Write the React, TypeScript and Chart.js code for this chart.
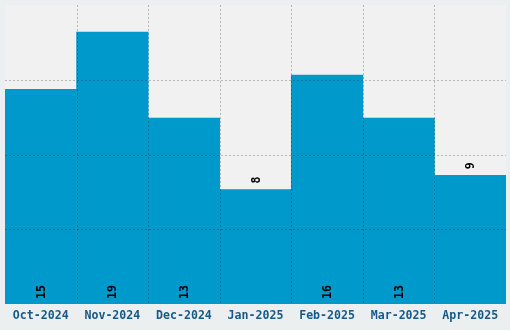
import React, { useEffect, useRef } from "react";
import { Chart, registerables } from "chart.js";

Chart.register(...registerables);

const categories = ["Oct-2024", "Nov-2024", "Dec-2024", "Jan-2025", "Feb-2025", "Mar-2025", "Apr-2025"];
const values = [15, 19, 13, 8, 16, 13, 9];
const yMax = 20.9;

const FONT = "'DejaVu Sans Mono', 'Liberation Mono', monospace";

const bgPlugin = {
  id: "bgPlugin",
  beforeDraw(chart: any) {
    const { ctx, chartArea, width, height } = chart;
    ctx.save();
    ctx.fillStyle = "#eceff0";
    ctx.fillRect(0, 0, width, height);
    ctx.fillStyle = "#f1f1f1";
    ctx.fillRect(chartArea.left, chartArea.top, chartArea.right - chartArea.left, chartArea.bottom - chartArea.top);
    ctx.restore();
  },
};

const gridPlugin = {
  id: "gridPlugin",
  afterDatasetsDraw(chart: any) {
    const { ctx, chartArea, scales } = chart;
    ctx.save();
    ctx.strokeStyle = "rgba(0,0,0,0.24)";
    ctx.lineWidth = 1;
    ctx.setLineDash([2, 2]);
    const xs = scales.x;
    for (let i = 1; i < categories.length; i++) {
      const px = Math.round((xs.getPixelForTick(i - 1) + xs.getPixelForTick(i)) / 2) + 0.5;
      ctx.beginPath();
      ctx.moveTo(px, chartArea.top);
      ctx.lineTo(px, chartArea.bottom);
      ctx.stroke();
    }
    const ys = scales.y;
    ys.ticks.forEach((t: any, i: number) => {
      if (i === 0 || i === ys.ticks.length - 1) return;
      const py = Math.round(ys.getPixelForValue(t.value)) + 0.5;
      ctx.beginPath();
      ctx.moveTo(chartArea.left, py);
      ctx.lineTo(chartArea.right, py);
      ctx.stroke();
    });
    ctx.restore();
  },
};

const labelPlugin = {
  id: "labelPlugin",
  afterDraw(chart: any) {
    const { ctx } = chart;
    const meta = chart.getDatasetMeta(0);
    ctx.save();
    ctx.font = `bold 11.6px ${FONT}`;
    ctx.fillStyle = "#000000";
    ctx.textBaseline = "middle";
    ctx.textAlign = "left";
    meta.data.forEach((bar: any, i: number) => {
      const v = values[i];
      const x = bar.x;
      const y = v < 10 ? bar.y - 6 : bar.base - 5;
      ctx.save();
      ctx.translate(x, y);
      ctx.rotate(-Math.PI / 2);
      ctx.fillText(String(v), 0, 1);
      ctx.restore();
    });
    ctx.restore();
  },
};

export default function App() {
  const ref = useRef<HTMLCanvasElement | null>(null);
  useEffect(() => {
    document.body.style.margin = "0";
    document.body.style.background = "#eceff0";
    const chart = new Chart(ref.current as HTMLCanvasElement, {
      type: "bar",
      data: {
        labels: categories,
        datasets: [
          {
            data: values,
            backgroundColor: "#0099cc",
            borderWidth: 0,
            barPercentage: 1,
            categoryPercentage: 1,
          },
        ],
      },
      options: {
        animation: false,
        responsive: false,
        layout: { padding: { left: 5, right: 4, top: 5, bottom: 2 } },
        plugins: { legend: { display: false }, tooltip: { enabled: false } },
        scales: {
          x: {
            grid: { display: false, drawTicks: false },
            border: { display: false },
            ticks: {
              padding: 5,
              color: "#155a8a",
              font: { family: FONT, size: 11.6, weight: "bold" },
              maxRotation: 0,
            },
          },
          y: {
            min: 0,
            max: yMax,
            grid: { display: false, drawTicks: false },
            border: { display: false },
            ticks: { display: false, count: 5 },
          },
        },
      },
      plugins: [bgPlugin, gridPlugin, labelPlugin],
    } as any);
    return () => chart.destroy();
  }, []);
  return <canvas ref={ref} width={510} height={330} style={{ display: "block" }} />;
}
